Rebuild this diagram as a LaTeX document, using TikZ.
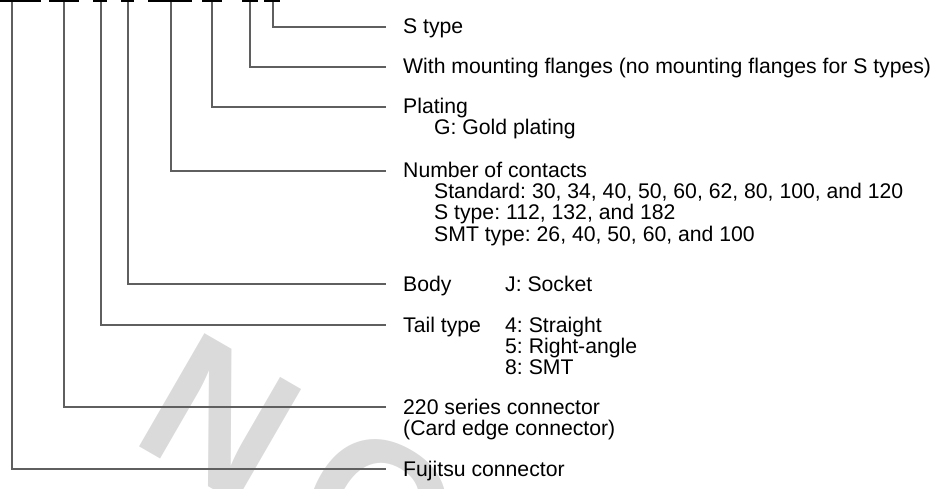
\documentclass[tikz,border=0pt]{standalone}
\usepackage{fontspec}
\setmainfont{Liberation Sans}
\newfontfamily\wmfont{Liberation Sans Bold}
\definecolor{leadgray}{RGB}{95,95,95}
\definecolor{wmgray}{RGB}{218,218,218}
\begin{document}
\frenchspacing
\begin{tikzpicture}[x=1pt,y=-1pt,
  lead/.style={draw=leadgray, line width=1.3pt},
  topbar/.style={draw=black, line width=2pt},
  lbl/.style={anchor=west, inner xsep=17pt, inner ysep=0pt, text height=15pt, text depth=1pt,
              font=\fontsize{21.2}{21}\selectfont},
  sub/.style={lbl, anchor=base west},
  wm/.style={text=wmgray, inner sep=0pt, font=\wmfont\fontsize{190}{190}\selectfont}]
\useasboundingbox (0,0) rectangle (937,489);
% watermark
\begin{scope}
  \clip (0,0) rectangle (937,489);
  \node[wm, rotate=-30] (wm) at (302,465) {N\kern40pt O};
\end{scope}
% top bars
\foreach \a/\b in {0/41, 49/79, 93/107, 121/134, 148/192, 202/222, 242/258, 264/280}
  \draw[topbar] (\a,1) -- (\b,1);
% bar anchors
\coordinate (b1) at (12,2);
\coordinate (b2) at (64,2);
\coordinate (b3) at (101,2);
\coordinate (b4) at (128,2);
\coordinate (b5) at (171,2);
\coordinate (b6) at (212,2);
\coordinate (b7) at (250,2);
\coordinate (b8) at (273,2);
% labels
\node[lbl] (t8) at (386,27) {S type};
\node[lbl] (t7) at (386,67) {With mounting flanges (no mounting flanges for S types)};
\node[lbl] (t6) at (386,107) {Plating};
\node[sub, xshift=31pt, yshift=-21pt] (t6a) at (t6.base west) {G: Gold plating};
\node[lbl] (t5) at (386,171) {Number of contacts};
\node[sub, xshift=31pt, yshift=-21pt] (t5a) at (t5.base west) {Standard: 30, 34, 40, 50, 60, 62, 80, 100, and 120};
\node[sub, yshift=-21pt] (t5b) at (t5a.base west) {S type: 112, 132, and 182};
\node[sub, yshift=-21pt] (t5c) at (t5b.base west) {SMT type: 26, 40, 50, 60, and 100};
\node[lbl] (t4) at (386,284) {Body};
\node[sub, xshift=102pt] (t4a) at (t4.base west) {J: Socket};
\node[lbl] (t3) at (386,325) {Tail type};
\node[sub, xshift=102pt] (t3a) at (t3.base west) {4: Straight};
\node[sub, yshift=-21pt] (t3b) at (t3a.base west) {5: Right-angle};
\node[sub, yshift=-21pt] (t3c) at (t3b.base west) {8: SMT};
\node[lbl] (t2) at (386,407) {220 series connector};
\node[sub, yshift=-21pt] (t2a) at (t2.base west) {(Card edge connector)};
\node[lbl] (t1) at (386,469) {Fujitsu connector};
% leaders
\draw[lead] (b1) |- (t1.west);
\draw[lead] (b2) |- (t2.west);
\draw[lead] (b3) |- (t3.west);
\draw[lead] (b4) |- (t4.west);
\draw[lead] (b5) |- (t5.west);
\draw[lead] (b6) |- (t6.west);
\draw[lead] (b7) |- (t7.west);
\draw[lead] (b8) |- (t8.west);
\end{tikzpicture}
\end{document}
